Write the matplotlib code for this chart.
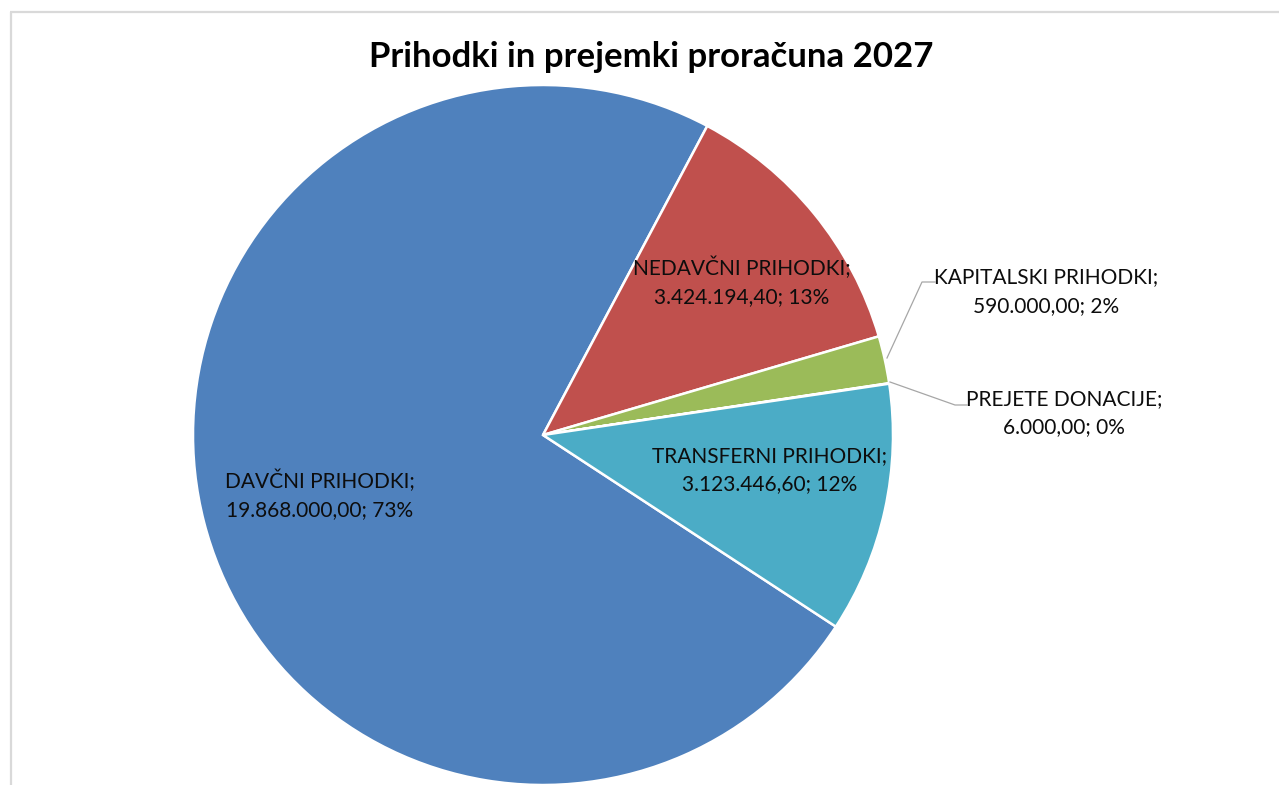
import matplotlib
matplotlib.use("Agg")
import matplotlib.pyplot as plt

plt.rcParams['font.family'] = ['Lato', 'DejaVu Sans']

W, H = 1279, 785

names = ["DAVČNI PRIHODKI", "NEDAVČNI PRIHODKI", "KAPITALSKI PRIHODKI",
         "PREJETE DONACIJE", "TRANSFERNI PRIHODKI"]
values = [19868000.00, 3424194.40, 590000.00, 6000.00, 3123446.60]
pct_shown = [73, 13, 2, 0, 12]
colors = ["#4F81BD", "#C0504D", "#9BBB59", "#8064A2", "#4BACC6"]
title = "Prihodki in prejemki proračuna 2027"


def fmt_si(v):
    # 19,868,000.00 -> 19.868.000,00
    s = f"{v:,.2f}"
    return s.replace(",", "X").replace(".", ",").replace("X", ".")


fig = plt.figure(figsize=(W / 100, H / 100), dpi=100)
ax = fig.add_axes([0, 0, 1, 1])

# pie in pixel coords (y measured from bottom)
ax.pie(values, colors=colors, startangle=-33.2, counterclock=False,
       center=(543, H - 435), radius=350,
       wedgeprops=dict(edgecolor="white", linewidth=1.8))
ax.set_xlim(0, W)
ax.set_ylim(0, H)
ax.set_aspect("auto")
ax.axis("off")

# chart border (left + top)
ax.plot([10.5, 10.5], [0, H - 11.5], color="#D9D9D9", lw=1.6, solid_capstyle="butt")
ax.plot([10, W], [H - 11.5, H - 11.5], color="#D9D9D9", lw=1.6, solid_capstyle="butt")

ax.text(651, H - 67, title, ha="center", va="baseline",
        fontsize=25, fontweight="bold", color="black")

# label positions: x center, baseline line 1, baseline line 2 (pixels from top)
lab_pos = [(320, 488, 516), (742, 275, 303), (1046, 283, 312),
           (1064, 405, 433), (770, 462, 490)]
for name, v, p, (lx, b1, b2) in zip(names, values, pct_shown, lab_pos):
    ax.text(lx, H - b1, f"{name};", ha="center", va="baseline",
            fontsize=15, color="#0D0D0D")
    ax.text(lx, H - b2, f"{fmt_si(v)}; {p}%", ha="center", va="baseline",
            fontsize=15, color="#0D0D0D")

# leader lines for the small slices
lead_col = "#A6A6A6"
ax.plot([935, 922, 887], [H - 282, H - 282, H - 358], color=lead_col, lw=0.9)
ax.plot([967, 955, 890], [H - 405, H - 405, H - 382], color=lead_col, lw=0.9)

fig.savefig("out.png", dpi=100, facecolor="white")
